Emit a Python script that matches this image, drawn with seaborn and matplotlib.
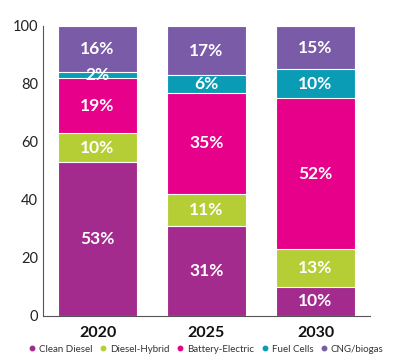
import numpy as np
import pandas as pd
import matplotlib
matplotlib.use("Agg")
import matplotlib.pyplot as plt
import seaborn as sns
from matplotlib.lines import Line2D

# --- data ---
years = ["2020", "2025", "2030"]
fuels = ["Clean Diesel", "Diesel-Hybrid", "Battery-Electric", "Fuel Cells", "CNG/biogas"]
clean_diesel = [53, 31, 10]
diesel_hybrid = [10, 11, 13]
battery_electric = [19, 35, 52]
fuel_cells = [2, 6, 10]
cng_biogas = [16, 17, 15]
colors = ["#A22B8D", "#B5CE36", "#E6008A", "#0A9BB5", "#7A5BA7"]

sns.set_style("white")
plt.rcParams["font.family"] = ["Lato", "DejaVu Sans"]

shares = np.array([clean_diesel, diesel_hybrid, battery_electric, fuel_cells, cng_biogas])
cum = shares.cumsum(axis=0)

fig = plt.figure(figsize=(4.0, 3.64), dpi=100)
ax = fig.add_axes([0.1075, 0.132, 0.8175, 0.7966])

# draw cumulative totals from the top down so each stack piece overlaps the next
for i in reversed(range(len(fuels))):
    df = pd.DataFrame({"year": years, "total": cum[i]})
    sns.barplot(data=df, x="year", y="total", color=colors[i], width=0.72,
                edgecolor="white", linewidth=0.8, saturation=1, ax=ax)

# percentage labels in the middle of each piece
for i in range(len(fuels)):
    for j in range(len(years)):
        mid = cum[i][j] - shares[i][j] / 2
        ax.text(j, mid, f"{shares[i][j]}%", ha="center", va="center",
                color="white", fontsize=12.5, fontweight="bold")

ax.set_xlim(-0.5, 2.5)
ax.set_ylim(0, 100)
ax.set_yticks([0, 20, 40, 60, 80, 100])
ax.set_xlabel("")
ax.set_ylabel("")
ax.tick_params(axis="y", direction="in", length=6, width=0.8, color="#555555",
               labelsize=10.5, labelcolor="#222222", pad=3.5)
ax.tick_params(axis="x", which="major", length=0, labelsize=11.5, pad=7)
for lab in ax.get_xticklabels():
    lab.set_fontweight("bold")
    lab.set_color("#111111")
ax.set_xticks([0.5, 1.5, 2.5], minor=True)
ax.tick_params(axis="x", which="minor", direction="in", length=5, width=0.8, color="#555555")

sns.despine(ax=ax)
for side in ["left", "bottom"]:
    ax.spines[side].set_color("#555555")
    ax.spines[side].set_linewidth(0.8)

handles = [Line2D([0], [0], marker="o", linestyle="", markersize=3.2,
                  markerfacecolor=c, markeredgecolor=c) for c in colors]
fig.legend(handles, fuels, loc="center", bbox_to_anchor=(0.515, 0.041), ncol=5,
           frameon=False, fontsize=7.0, handletextpad=0.3, columnspacing=0.7,
           labelcolor="#333333", handlelength=0.8)

plt.savefig("out.png", dpi=100)
